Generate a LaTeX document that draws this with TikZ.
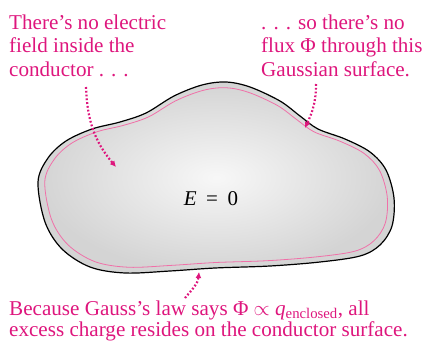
\documentclass[tikz,border=0pt]{standalone}
\usepackage{fontspec}
\setmainfont{Liberation Serif}
\usetikzlibrary{arrows.meta}

\definecolor{callout}{RGB}{222,22,125}
\definecolor{gausspink}{RGB}{240,112,168}

\newcommand{\conductorpath}{plot[smooth cycle, tension=0.55] coordinates {
  (38,182) (48,158) (66,141) (92,129) (120,122) (146,113) (174,96) (202,85)
  (226,82) (250,87) (280,101) (300,116) (318,129) (345,139) (370,152)
  (386,170) (394,198) (392,226) (380,245) (360,256) (320,262) (270,266)
  (215,268) (170,271) (125,273) (90,267) (62,249) (45,222)}}

\begin{document}
\begin{tikzpicture}[x=1pt, y=-1pt,
  callouttext/.style={text=callout, font=\fontsize{21.1}{23.3}\selectfont, align=left, inner sep=0pt, anchor=base west},
  pointer/.style={callout, line width=2.2pt, dash pattern=on 1.8pt off 2pt, -{Latex[length=6pt, width=6pt]}}
  ]

  \useasboundingbox (0,0) rectangle (424,343);

  % conductor and the Gaussian surface just inside it
  \shade[inner color=gray!6, outer color=gray!34, draw=black, line width=1.2pt] \conductorpath;
  \begin{scope}[shift={(216,177)}, xscale=0.962, yscale=0.94, shift={(-216,-177)}]
    \draw[gausspink, line width=0.8pt] \conductorpath;
  \end{scope}

  \node[font=\fontsize{21}{23}\selectfont, inner sep=0pt, anchor=base] (ezero) at (211,205) {\textit{E}\hspace{0.45em}=\hspace{0.45em}0};

  % labels (base = last line)
  \node[callouttext] (nofield) at (9,76) {There’s no electric\\field inside the\\conductor . . .};
  \node[callouttext] (noflux) at (261,76) {. . . so there’s no\\flux Φ through this\\Gaussian surface.};
  \node[callouttext, font=\fontsize{21.1}{21}\selectfont] (gausslaw) at (9,336.5) {Because Gauss’s law says Φ $\propto$ \textit{q}\textsubscript{enclosed}, all\\excess charge resides on the conductor surface.};

  \coordinate (fieldtail) at (86,87);
  \coordinate (fieldtip) at (116,167);
  \coordinate (fluxtail) at (316,84);
  \coordinate (fluxtip) at (305,128);
  \coordinate (chargetail) at (185,298);
  \coordinate (chargetip) at (199,272);

  \draw[pointer] (fieldtail) to[out=-88, in=130] (fieldtip);
  \draw[pointer] (fluxtail) to[out=-90, in=65] (fluxtip);
  \draw[pointer] (chargetail) to[out=50, in=-95] (chargetip);
\end{tikzpicture}
\end{document}
